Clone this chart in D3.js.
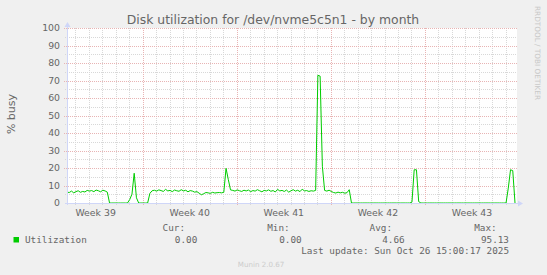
<!DOCTYPE html>
<html>
<head>
<meta charset="utf-8">
<script src="https://cdn.jsdelivr.net/npm/d3@7"></script>
<style>
  body { margin: 0; background: #f0f0f0; }
  svg { display: block; }
  text { font-family: "DejaVu Sans", sans-serif; fill: #666666; }
  .mono { font-family: "DejaVu Sans Mono", monospace; }
</style>
</head>
<body>
<div id="chart"></div>
<script>
// time window of the month graph (calibrated to the grid)
const tStart = Date.UTC(2025, 8, 23, 8, 50);
const tEnd = Date.UTC(2025, 9, 26, 20, 24);
const stepHours = 4;

// % busy, one value per 4 hours from tStart
const utilization = [
  6.2, 6.0, 6.8, 5.8, 6.5, 7.0, 6.1, 6.6, 6.3, 7.2, 6.8, 7.1, 6.5, 7.4, 7.0, 6.4, 7.3, 6.9, 6.2,
  0, 0, 0, 0, 0, 0, 0, 0, 0,
  2, 5, 17, 3,
  0, 0, 0, 0, 0,
  5.5, 7,
  7.3, 6.8, 7.5, 7.1, 6.6, 7.8, 6.9, 7.2, 6.5, 7.4, 7.0, 6.7, 7.6, 6.9, 7.3, 6.4, 7.1, 6.8, 6.2, 6.5,
  5.6, 4.7, 5.3, 6.0, 5.8, 5.5, 6.1, 5.7, 5.9, 6.0, 5.8, 6.1,
  19.8, 13.5, 7.5,
  7.2, 6.8, 7.5, 7.0, 6.6, 7.3, 6.9, 7.4, 6.5, 7.1, 6.8, 7.6, 7.0, 6.4, 7.2, 6.9, 7.5, 6.7, 7.1,
  6.3, 7.8, 6.9, 7.2, 6.6, 7.4, 6.2, 7.0, 7.6, 6.8, 7.3, 6.5, 7.9, 6.9, 7.1, 6.6, 7.0, 6.8, 7.2,
  73, 72.5, 21, 7.2,
  6.8, 7.3, 6.6,
  6.0, 5.7, 6.2, 5.8, 6.1, 5.6, 5.9,
  7.6,
  0, 0, 0, 0, 0, 0, 0, 0, 0, 0, 0, 0, 0, 0, 0, 0, 0, 0, 0, 0, 0, 0, 0, 0, 0, 0, 0,
  0.5, 19, 19, 0.8, 0,
  0, 0, 0, 0, 0, 0, 0, 0, 0, 0, 0, 0, 0, 0, 0, 0, 0, 0, 0,
  0, 0, 0, 0, 0, 0, 0, 0, 0, 0, 0, 0, 0, 0, 0, 0, 0, 0, 0,
  8.5, 19, 18.5, 0
];

const yTicks = [0, 10, 20, 30, 40, 50, 60, 70, 80, 90, 100];
const weekStarts = ["2025-09-22", "2025-09-29", "2025-10-06", "2025-10-13", "2025-10-20"];
const weekLabels = ["Week 39", "Week 40", "Week 41", "Week 42", "Week 43"];

const statNames = ["Cur:", "Min:", "Avg:", "Max:"];
const statValues = ["0.00", "0.00", "4.66", "95.13"];

const W = 547, H = 275;
const pLeft = 67, pRight = 517, pTop = 28, pBottom = 203;

const svg = d3.select("#chart").append("svg")
  .attr("width", W)
  .attr("height", H);

svg.append("rect").attr("width", W).attr("height", H).attr("fill", "#f0f0f0");

const x = d3.scaleUtc().domain([tStart, tEnd]).range([pLeft, pRight]);
const y = d3.scaleLinear().domain([0, 100]).range([pBottom, pTop]);

// canvas
svg.append("rect")
  .attr("x", pLeft).attr("y", pTop)
  .attr("width", pRight - pLeft).attr("height", pBottom - pTop)
  .attr("fill", "#ffffff");

const grid = svg.append("g").attr("shape-rendering", "crispEdges");

// minor grid: days and every 5 %
const days = d3.utcDay.range(new Date(tStart), new Date(tEnd));
grid.selectAll(".vmin").data(days).enter().append("line")
  .attr("x1", d => Math.round(x(d)) + 0.5).attr("x2", d => Math.round(x(d)) + 0.5)
  .attr("y1", pTop).attr("y2", pBottom + 2)
  .attr("stroke", "#d8d8d8").attr("stroke-dasharray", "1,1");

const minorY = d3.range(5, 100, 10);
grid.selectAll(".hmin").data(minorY).enter().append("line")
  .attr("x1", pLeft - 2).attr("x2", pRight)
  .attr("y1", d => Math.round(y(d)) + 0.5).attr("y2", d => Math.round(y(d)) + 0.5)
  .attr("stroke", "#d8d8d8").attr("stroke-dasharray", "1,1");

// major grid: weeks and every 10 %
const weekDates = weekStarts.map(s => new Date(s + "T00:00:00Z"));
grid.selectAll(".vmaj").data(weekDates.filter(d => d > tStart)).enter().append("line")
  .attr("x1", d => Math.round(x(d)) + 0.5).attr("x2", d => Math.round(x(d)) + 0.5)
  .attr("y1", pTop).attr("y2", pBottom + 3)
  .attr("stroke", "#e8b4b4").attr("stroke-dasharray", "1,1");

grid.selectAll(".hmaj").data(yTicks.slice(1)).enter().append("line")
  .attr("x1", pLeft - 3).attr("x2", pRight)
  .attr("y1", d => Math.round(y(d)) + 0.5).attr("y2", d => Math.round(y(d)) + 0.5)
  .attr("stroke", "#e8b4b4").attr("stroke-dasharray", "1,1");

// y tick labels
svg.selectAll(".ylab").data(yTicks).enter().append("text")
  .attr("x", pLeft - 7)
  .attr("y", d => y(d))
  .attr("dy", "0.36em")
  .attr("text-anchor", "end")
  .attr("font-size", "9.33px")
  .text(d => d);

// week labels, centred on the middle of each week
svg.selectAll(".xlab").data(weekDates).enter().append("text")
  .attr("x", d => x(d3.utcHour.offset(d, 84)))
  .attr("y", pBottom + 13)
  .attr("text-anchor", "middle")
  .attr("font-size", "9.33px")
  .text((d, i) => weekLabels[i]);

// data line
const points = utilization.map((v, i) => ({ t: tStart + i * stepHours * 3600e3, v: v }));
svg.append("path")
  .datum(points)
  .attr("fill", "none")
  .attr("stroke", "#00cc00")
  .attr("stroke-width", 1)
  .attr("d", d3.line().x(d => x(d.t)).y(d => y(d.v)));

// axes with arrows
const axisColor = "#cfd6f8";
svg.append("line")
  .attr("x1", pLeft - 2).attr("x2", pRight + 1)
  .attr("y1", pBottom + 0.5).attr("y2", pBottom + 0.5)
  .attr("stroke", axisColor).attr("shape-rendering", "crispEdges");
svg.append("line")
  .attr("x1", pLeft + 0.5).attr("x2", pLeft + 0.5)
  .attr("y1", pBottom + 2).attr("y2", pTop - 1)
  .attr("stroke", axisColor).attr("shape-rendering", "crispEdges");
svg.append("path")
  .attr("d", `M${pRight + 1},${pBottom - 2.5} L${pRight + 6},${pBottom + 0.5} L${pRight + 1},${pBottom + 3.5} Z`)
  .attr("fill", axisColor);
svg.append("path")
  .attr("d", `M${pLeft - 2.5},${pTop - 1} L${pLeft + 0.5},${pTop - 6} L${pLeft + 3.5},${pTop - 1} Z`)
  .attr("fill", axisColor);

// title and unit
svg.append("text")
  .attr("x", 273).attr("y", 24)
  .attr("text-anchor", "middle")
  .attr("font-size", "12.4px")
  .text("Disk utilization for /dev/nvme5c5n1 - by month");

svg.append("text")
  .attr("transform", "translate(14.5,114) rotate(-90)")
  .attr("text-anchor", "middle")
  .attr("font-size", "11px")
  .text("% busy");

// watermark
svg.append("text")
  .attr("transform", "translate(535,53) rotate(90)")
  .attr("text-anchor", "middle")
  .attr("font-size", "7.3px")
  .style("fill", "#c8c8c8")
  .text("RRDTOOL / TOBI OETIKER");

svg.append("text")
  .attr("x", 261).attr("y", 267)
  .attr("text-anchor", "middle")
  .attr("font-size", "7.1px")
  .style("fill", "#cccccc")
  .text("Munin 2.0.67");

// legend
svg.append("rect")
  .attr("x", 13.5).attr("y", 237).attr("width", 5.5).attr("height", 5.5)
  .attr("fill", "#00cc00");
svg.append("text").attr("class", "mono")
  .attr("x", 25).attr("y", 243)
  .attr("font-size", "9.33px")
  .text("Utilization");

const headRight = [185, 289.7, 392, 496.7];
const valRight = [197.3, 301.7, 404.7, 509];
svg.selectAll(".shead").data(statNames).enter().append("text")
  .attr("class", "mono")
  .attr("x", (d, i) => headRight[i]).attr("y", 231)
  .attr("text-anchor", "end")
  .attr("font-size", "9.33px")
  .text(d => d);
svg.selectAll(".sval").data(statValues).enter().append("text")
  .attr("class", "mono")
  .attr("x", (d, i) => valRight[i]).attr("y", 243)
  .attr("text-anchor", "end")
  .attr("font-size", "9.33px")
  .text(d => d);

svg.append("text").attr("class", "mono")
  .attr("x", 509).attr("y", 254.3)
  .attr("text-anchor", "end")
  .attr("font-size", "9.33px")
  .text("Last update: Sun Oct 26 15:00:17 2025");
</script>
</body>
</html>
